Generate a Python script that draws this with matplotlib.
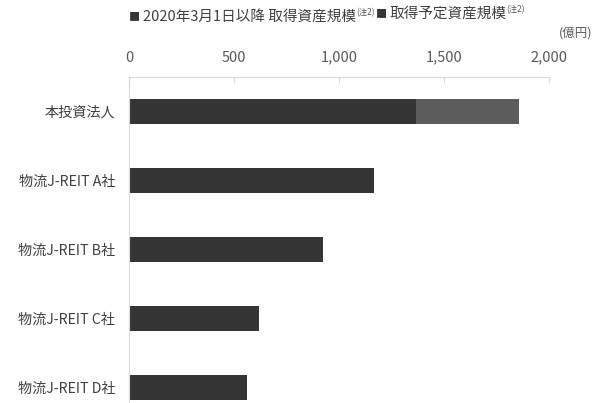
import matplotlib

matplotlib.use("Agg")
import matplotlib.pyplot as plt
import numpy as np
from matplotlib.ticker import FuncFormatter

plt.rcParams["font.family"] = ["Noto Sans CJK JP", "DejaVu Sans"]

DARK = "#353535"
LIGHT = "#5c5c5c"

categories = ["本投資法人", "物流J-REIT A社", "物流J-REIT B社", "物流J-REIT C社", "物流J-REIT D社"]
acquired = [1365, 1167, 924, 619, 562]
planned = [492, 0, 0, 0, 0]
series_labels = ["2020年3月1日以降 取得資産規模", "取得予定資産規模"]
note = "(注2)"

y = np.arange(len(categories))

fig = plt.figure(figsize=(6.03, 4.03), dpi=100)
ax = fig.add_axes([129 / 603, -19 / 403, 420 / 603, 345 / 403])

ax.barh(y, acquired, height=0.35, color=DARK)
ax.barh(y, planned, left=acquired, height=0.35, color=LIGHT)

ax.set_xlim(0, 2000)
ax.set_ylim(4.5, -0.5)
ax.set_xticks([0, 500, 1000, 1500, 2000])
ax.xaxis.set_major_formatter(FuncFormatter(lambda v, p: f"{int(v):,}"))
ax.xaxis.tick_top()
ax.tick_params(axis="x", direction="in", length=4, color="#d9d9d9", labelsize=10.5, labelcolor="#595959", pad=9)
ax.set_yticks(y)
ax.set_yticklabels(categories)
ax.tick_params(axis="y", length=0, labelsize=10.2, labelcolor="#404040", pad=10)

for side in ["right", "bottom"]:
    ax.spines[side].set_visible(False)
ax.spines["top"].set_color("#d9d9d9")
ax.spines["left"].set_color("#d9d9d9")

fig.text(592 / 603, 1 - 33 / 403, "(億円)", ha="right", va="center", fontsize=9, color="#595959")

# legend built as chained text: square, label, small note
x0 = 129 / 603
yl = 1 - 17 / 403
prev = None
for color, label in zip([DARK, DARK], series_labels):
    if prev is None:
        sq = fig.text(x0, yl, "■", color=color, fontsize=8, va="center", ha="left")
    else:
        sq = ax.annotate("■", xy=(1, 0.3), xycoords=prev, xytext=(1, 0), textcoords="offset points",
                         color=color, fontsize=8, va="center", ha="left")
    lab = ax.annotate(label, xy=(1, 0.5), xycoords=sq, xytext=(2, 0.5), textcoords="offset points",
                      color="#404040", fontsize=10.5, va="center", ha="left")
    prev = ax.annotate(note, xy=(1, 0.45), xycoords=lab, xytext=(0, 0), textcoords="offset points",
                       color="#595959", fontsize=6, va="bottom", ha="left")

fig.savefig("out.png", dpi=100)
